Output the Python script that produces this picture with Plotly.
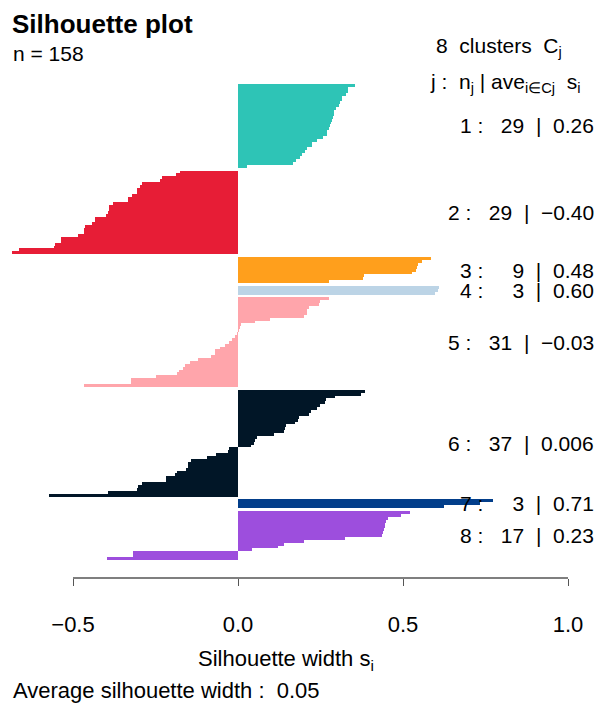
import plotly.graph_objects as go

# ---- data ----
cluster_ids = [1, 2, 3, 4, 5, 6, 7, 8]
cluster_colors = ["#2EC4B6", "#E71D36", "#FF9F1C", "#BCD4E6",
                  "#FFA5AB", "#011627", "#023E8A", "#9D4EDD"]
cluster_avg_labels = ["0.26", "\u22120.40", "0.48", "0.60",
                      "\u22120.03", "0.006", "0.71", "0.23"]

sil_c1 = [0.355, 0.332, 0.332, 0.327, 0.315, 0.315, 0.309, 0.306, 0.297, 0.291,
          0.291, 0.288, 0.285, 0.282, 0.279, 0.276, 0.270, 0.270, 0.258, 0.240,
          0.224, 0.224, 0.209, 0.202, 0.193, 0.187, 0.176, 0.167, 0.027]
sil_c2 = [-0.176, -0.188, -0.230, -0.236, -0.291, -0.297, -0.306, -0.306, -0.321,
          -0.333, -0.333, -0.379, -0.391, -0.391, -0.394, -0.400, -0.433, -0.433,
          -0.442, -0.464, -0.467, -0.467, -0.485, -0.536, -0.536, -0.555, -0.558,
          -0.664, -0.685]
sil_c3 = [0.585, 0.558, 0.545, 0.542, 0.539, 0.527, 0.382, 0.379, 0.276]
sil_c4 = [0.609, 0.606, 0.597]
sil_c5 = [0.276, 0.248, 0.245, 0.215, 0.209, 0.209, 0.200, 0.097, 0.052, 0.009,
          0.006, 0.001, -0.003, -0.009, -0.018, -0.027, -0.039, -0.055, -0.070,
          -0.070, -0.082, -0.121, -0.145, -0.161, -0.167, -0.179, -0.185, -0.248,
          -0.324, -0.324, -0.467]
sil_c6 = [0.385, 0.373, 0.294, 0.267, 0.264, 0.248, 0.239, 0.221, 0.215, 0.185,
          0.182, 0.173, 0.145, 0.142, 0.139, 0.109, 0.058, 0.052, 0.048, 0.039,
          -0.027, -0.030, -0.067, -0.094, -0.142, -0.152, -0.152, -0.158, -0.185,
          -0.191, -0.218, -0.218, -0.291, -0.303, -0.306, -0.394, -0.573]
sil_c7 = [0.772, 0.733, 0.624]
sil_c8 = [0.521, 0.494, 0.455, 0.448, 0.445, 0.445, 0.442, 0.439, 0.436, 0.324,
          0.200, 0.139, 0.121, 0.042, -0.318, -0.318, -0.397]

sil_values = [sil_c1, sil_c2, sil_c3, sil_c4, sil_c5, sil_c6, sil_c7, sil_c8]
tick_vals = [-0.5, 0.0, 0.5, 1.0]
tick_text = ["\u22120.5", "0.0", "0.5", "1.0"]
n_total = 158
avg_width = "0.05"

# ---- layout geometry ----
W, H = 602, 704
PLOT_TOP, PLOT_BOT = 84, 578
ZERO_PX, PX_PER_UNIT = 238, 330
x_range = [(0 - ZERO_PX) / PX_PER_UNIT, (W - ZERO_PX) / PX_PER_UNIT]
units_total = sum(len(v) for v in sil_values) + len(sil_values) - 1
px_per_bar = (560 - PLOT_TOP) / units_total
y_max = (PLOT_BOT - PLOT_TOP) / px_per_bar

FONT = "Liberation Sans, Arial, Helvetica, sans-serif"
SP = "&nbsp;"

fig = go.Figure()
annotations = []
offset = 0
for cid, vals, col, avg in zip(cluster_ids, sil_values, cluster_colors, cluster_avg_labels):
    pos = [offset + i + 0.5 for i in range(len(vals))]
    fig.add_trace(go.Bar(
        x=vals, y=pos, orientation="h", width=1,
        marker=dict(color=col, line=dict(width=0)),
        showlegend=False, hoverinfo="x",
    ))
    center = offset + len(vals) / 2
    n_str = str(len(vals))
    pad = SP * 2 * (2 - len(n_str))
    annotations.append(dict(
        x=596 / W, xref="paper", y=center, yref="y",
        text=f"{cid}{SP}:{SP*3}{pad}{n_str}{SP*2}|{SP*2}{avg}",
        showarrow=False, xanchor="right", yanchor="middle",
        font=dict(size=21, color="black", family=FONT),
    ))
    offset += len(vals) + 1

def py(p):
    return (PLOT_BOT - p) / (PLOT_BOT - PLOT_TOP)

annotations += [
    dict(x=10 / W, y=py(24), text="<b>Silhouette plot</b>", xanchor="left",
         font=dict(size=26, family=FONT, color="black")),
    dict(x=11 / W, y=py(54), text=f"n = {n_total}", xanchor="left",
         font=dict(size=21, family=FONT, color="black")),
    dict(x=499 / W, y=py(47), text=f"{len(cluster_ids)}{SP*2}clusters{SP*2}C<sub>j</sub>",
         xanchor="center", font=dict(size=21, family=FONT, color="black")),
    dict(x=505 / W, y=py(83),
         text=f"j{SP}:{SP*2}n<sub>j</sub>{SP}|{SP}ave<sub>i\u2208Cj</sub>{SP*2}s<sub>i</sub>",
         xanchor="center", font=dict(size=21, family=FONT, color="black")),
    dict(x=286 / W, y=py(660), text="Silhouette width s<sub>i</sub>", xanchor="center",
         font=dict(size=22, family=FONT, color="black")),
    dict(x=11 / W, y=py(690), text=f"Average silhouette width{SP}:{SP*2}{avg_width}",
         xanchor="left", font=dict(size=22, family=FONT, color="black")),
]
for a in annotations:
    a.setdefault("xref", "paper")
    a.setdefault("yref", "paper")
    a.setdefault("showarrow", False)
    a.setdefault("yanchor", "middle")

fig.add_shape(type="line", xref="x", yref="paper",
              x0=tick_vals[0], x1=tick_vals[-1], y0=0, y1=0,
              line=dict(color="#555555", width=1.3))

fig.update_layout(
    width=W, height=H,
    margin=dict(l=0, r=0, t=PLOT_TOP, b=H - PLOT_BOT),
    plot_bgcolor="white", paper_bgcolor="white",
    bargap=0, barmode="overlay",
    annotations=annotations,
    xaxis=dict(range=x_range, showgrid=False, zeroline=False, showline=False,
               tickmode="array", tickvals=tick_vals, ticktext=tick_text,
               ticks="outside", ticklen=7, tickwidth=1.3, tickcolor="#555555",
               ticklabelstandoff=20,
               tickfont=dict(size=22, family=FONT, color="black")),
    yaxis=dict(range=[y_max, 0], showgrid=False, zeroline=False,
               showline=False, showticklabels=False, ticks=""),
)

fig.write_html("out.html")
